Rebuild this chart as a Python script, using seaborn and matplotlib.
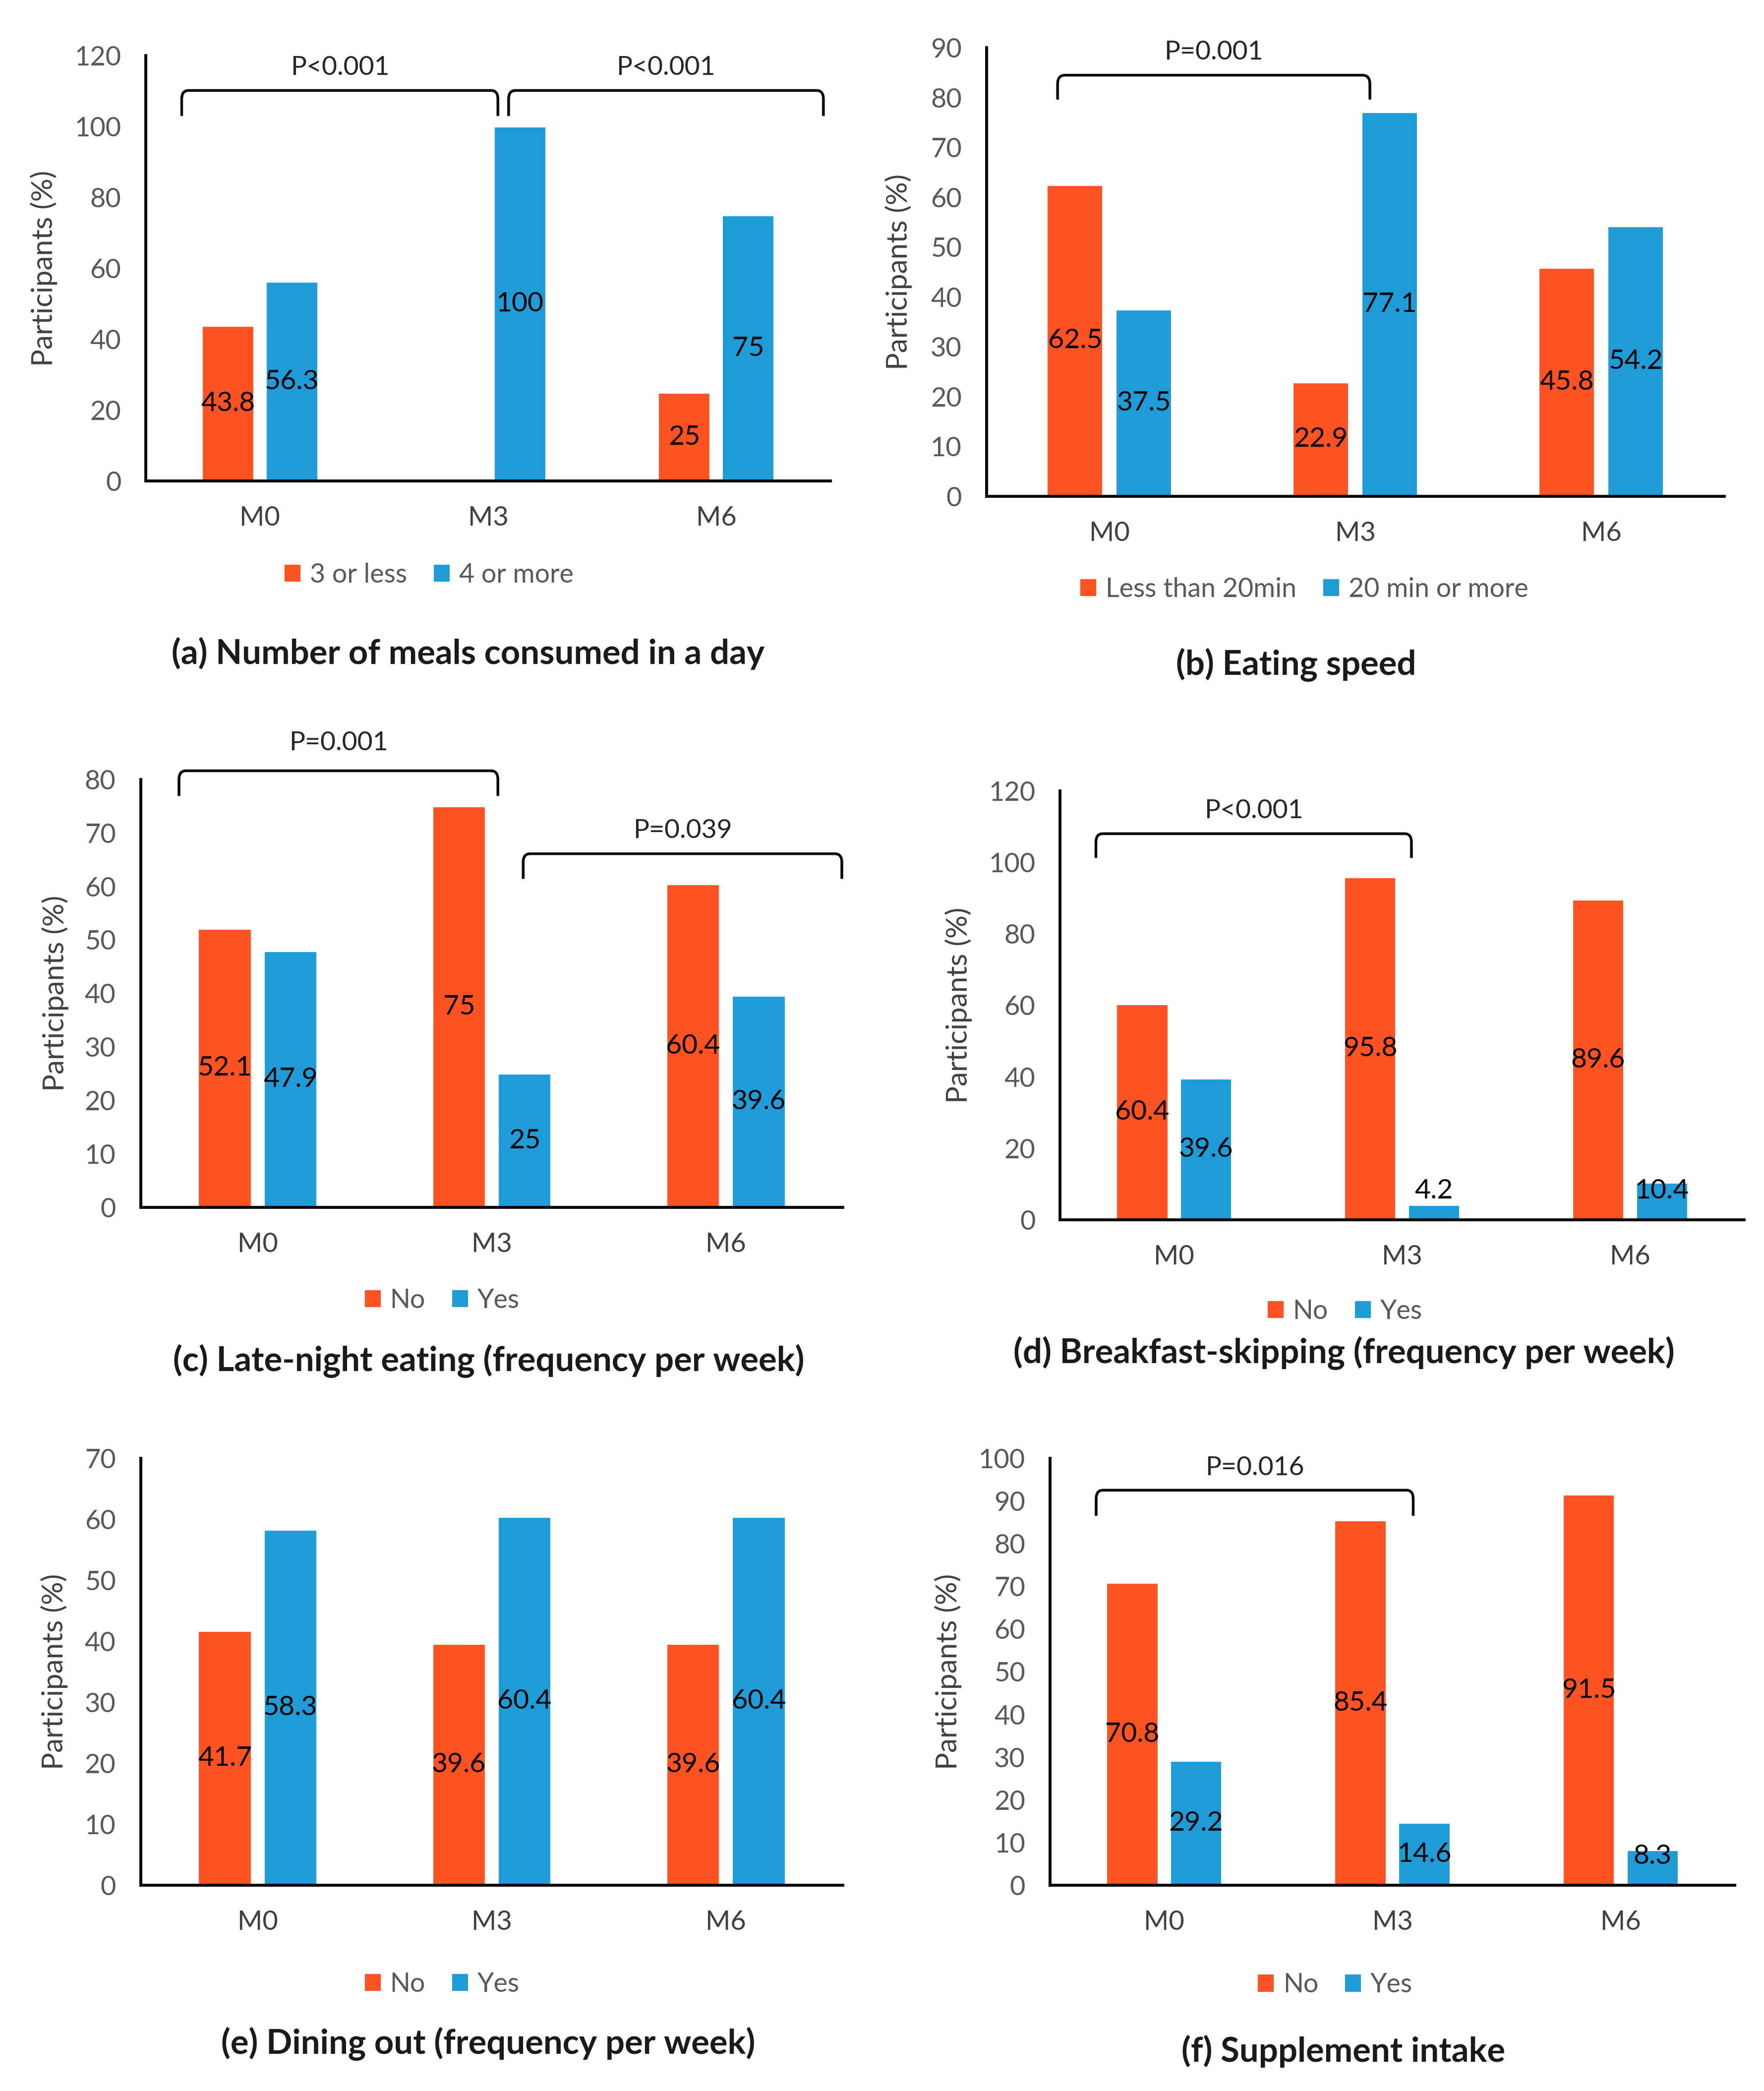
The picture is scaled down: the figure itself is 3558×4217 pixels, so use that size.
import matplotlib
matplotlib.use("Agg")
import matplotlib.pyplot as plt
from matplotlib.path import Path
from matplotlib.patches import PathPatch, Patch
import seaborn as sns
import pandas as pd

sns.set_theme(style="white")
plt.rcParams['font.family'] = ['Lato', 'DejaVu Sans']

# ---------------- data ----------------
months = ["M0", "M3", "M6"]

a_series = ["3 or less", "4 or more"]
a_first = [43.8, 0, 25]
a_second = [56.3, 100, 75]

b_series = ["Less than 20min", "20 min or more"]
b_first = [62.5, 22.9, 45.8]
b_second = [37.5, 77.1, 54.2]

c_series = ["No", "Yes"]
c_first = [52.1, 75, 60.4]
c_second = [47.9, 25, 39.6]

d_series = ["No", "Yes"]
d_first = [60.4, 95.8, 89.6]
d_second = [39.6, 4.2, 10.4]

e_series = ["No", "Yes"]
e_first = [41.7, 39.6, 39.6]
e_second = [58.3, 60.4, 60.4]

f_series = ["No", "Yes"]
f_first = [70.8, 85.4, 91.5]
f_second = [29.2, 14.6, 8.3]

titles = ["(a) Number of meals consumed in a day",
          "(b) Eating speed",
          "(c) Late-night eating (frequency per week)",
          "(d) Breakfast-skipping (frequency per week)",
          "(e) Dining out (frequency per week)",
          "(f) Supplement intake"]
ymax = [120, 90, 80, 120, 70, 100]
ystep = [20, 10, 10, 20, 10, 10]
p_labels = [["P<0.001", "P<0.001"], ["P=0.001"], ["P=0.001", "P=0.039"],
            ["P<0.001"], [], ["P=0.016"]]

panels = [(a_series, a_first, a_second), (b_series, b_first, b_second),
          (c_series, c_first, c_second), (d_series, d_first, d_second),
          (e_series, e_first, e_second), (f_series, f_first, f_second)]

# ---------------- layout (display units of a 1330 x 1576 grid) ----------------
W, H = 1330.0, 1576.0
axes_px = [(110, 626, 41.7, 362.7), (743.8, 1300, 36, 374),
           (106, 635.6, 587.4, 910), (799.3, 1315, 596, 919.4),
           (106, 635.6, 1099, 1421), (791.7, 1308, 1099, 1421)]
ylabel_x = [33, 677.3, 41.5, 722.6, 41, 715]
title_pos = [(352.8, 492.7), (977.3, 501), (368.6, 1025.7), (1013.5, 1020),
             (368, 1540.6), (1012.9, 1546)]
legend_pos = [(323.5, 433.3), (983.4, 444), (333.3, 980), (1014, 988.4),
              (333.3, 1495.3), (1006.7, 1496)]
# bracket geometry: (x_start, x_end, y_legs, y_top, y_text) in data coords
brackets = [[(-0.343, 1.043, 102.9, 110.1, 116.5), (1.09, 2.47, 102.9, 110.1, 116.5)],
            [(-0.211, 1.059, 79.6, 84.5, 89.1)],
            [(-0.336, 1.026, 76.9, 81.6, 86.8), (1.134, 2.495, 61.4, 66.1, 70.4)],
            [(-0.343, 1.041, 101.2, 108.0, 114.4)],
            [],
            [(-0.298, 1.091, 86.5, 92.5, 97.7)]]

ORANGE = "#FF5222"
BLUE = "#1E9CD8"
TICK_GREY = "#595959"
CAT_GREY = "#404040"

fig = plt.figure(figsize=(3558 / 300, 4217 / 300), dpi=300)


def draw_bracket(ax, x0, x1, ylow, ytop, rx=0.03, ry=None):
    span = ax.get_ylim()[1]
    if ry is None:
        ry = span * 0.02
    verts = [(x0, ylow), (x0, ytop - ry), (x0, ytop), (x0 + rx, ytop),
             (x1 - rx, ytop), (x1, ytop), (x1, ytop - ry), (x1, ylow)]
    codes = [Path.MOVETO, Path.LINETO, Path.CURVE3, Path.CURVE3,
             Path.LINETO, Path.CURVE3, Path.CURVE3, Path.LINETO]
    ax.add_patch(PathPatch(Path(verts, codes), fill=False, edgecolor="black",
                           lw=1.3, clip_on=False, zorder=5))


for i, (series, first, second) in enumerate(panels):
    l, r, t, b = axes_px[i]
    ax = fig.add_axes([l / W, 1 - b / H, (r - l) / W, (b - t) / H])
    df = pd.DataFrame({
        "Month": months * 2,
        "Group": [series[0]] * 3 + [series[1]] * 3,
        "Value": list(first) + list(second),
    })
    sns.barplot(data=df, x="Month", y="Value", hue="Group", order=months,
                hue_order=series, palette=[ORANGE, BLUE], width=0.56, gap=0.18,
                saturation=1, ax=ax, legend=False, errorbar=None)
    ax.set_xlim(-0.5, 2.5)
    ax.set_ylim(0, ymax[i])
    ax.set_yticks(range(0, ymax[i] + 1, ystep[i]))
    ax.tick_params(axis="y", length=0, pad=12, labelsize=13, labelcolor=TICK_GREY)
    ax.tick_params(axis="x", length=0, pad=12, labelsize=13, labelcolor=CAT_GREY)
    ax.set_xlabel("")
    ax.set_ylabel("Participants (%)", fontsize=14, color=CAT_GREY)
    ax.yaxis.label.set_verticalalignment("center")
    ax.yaxis.set_label_coords((ylabel_x[i] - l) / (r - l), 0.5)
    for s in ["top", "right"]:
        ax.spines[s].set_visible(False)
    for s in ["left", "bottom"]:
        ax.spines[s].set_color("black")
        ax.spines[s].set_linewidth(1.4)
    ax.grid(False)

    # data labels
    min_y = 0.068 * ymax[i]
    for container in ax.containers:
        for bar in container:
            v = bar.get_height()
            if v == 0:
                continue
            xc = bar.get_x() + bar.get_width() / 2
            yc = max(v / 2, min_y)
            txt = f"{v:g}"
            ax.text(xc, yc, txt, ha="center", va="center", fontsize=13.3,
                    color="black", zorder=6)

    # significance brackets
    for (x0, x1, ylow, ytop, ytext), lab in zip(brackets[i], p_labels[i]):
        draw_bracket(ax, x0, x1, ylow, ytop)
        ax.text((x0 + x1) / 2, ytext, lab, ha="center", va="center",
                fontsize=12.8, color="#262626", clip_on=False)

    # legend
    handles = [Patch(facecolor=ORANGE, edgecolor="none"),
               Patch(facecolor=BLUE, edgecolor="none")]
    lx, ly = legend_pos[i]
    fig.legend(handles, series, loc="center", bbox_to_anchor=(lx / W, 1 - ly / H),
               ncol=2, frameon=False, fontsize=12.9, labelcolor=TICK_GREY,
               handlelength=0.6, handleheight=0.6, handletextpad=0.35,
               columnspacing=1.0, borderaxespad=0)

    tx, ty = title_pos[i]
    fig.text(tx / W, 1 - ty / H, titles[i], ha="center", va="center",
             fontsize=16.5, fontweight="bold", color="#1a1a1a")

fig.savefig("out.png", dpi=300, facecolor="white")
